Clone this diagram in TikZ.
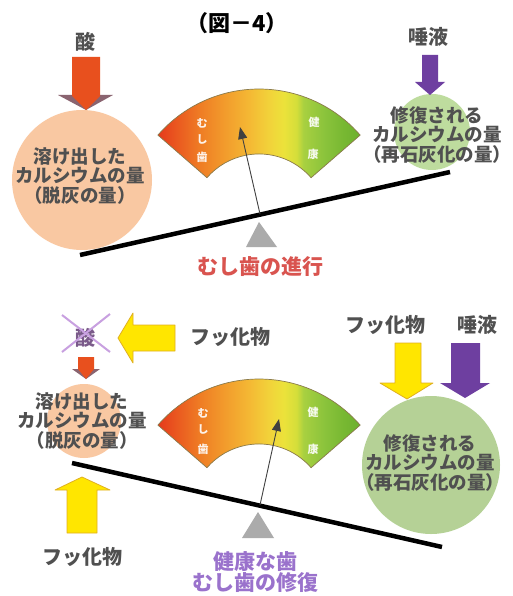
\documentclass[tikz,border=0pt]{standalone}
\usepackage{fontspec}
\newfontfamily\jp{Noto Sans CJK JP}
\usetikzlibrary{arrows.meta}
\definecolor{txtgray}{HTML}{505050}
\definecolor{peach}{HTML}{F9C8A2}
\definecolor{lgreen}{HTML}{BEDC9E}
\definecolor{acidred}{HTML}{E8501E}
\definecolor{redwing}{HTML}{8A6470}
\definecolor{salpurple}{HTML}{6E3FA0}
\definecolor{fyellow}{HTML}{FFE600}
\definecolor{fyedge}{HTML}{E0B020}
\definecolor{xpurple}{HTML}{C8A0E0}
\definecolor{acidgray}{HTML}{7A5A8A}
\definecolor{capred}{HTML}{D9544F}
\definecolor{cappurple}{HTML}{9A72CC}
\definecolor{gline}{HTML}{8A7A4A}
\definecolor{g1}{HTML}{E53A1C}
\definecolor{g2}{HTML}{EA5A20}
\definecolor{g3}{HTML}{EF7C24}
\definecolor{g4}{HTML}{F29B2C}
\definecolor{g5}{HTML}{F4B834}
\definecolor{g6}{HTML}{F2D23A}
\definecolor{g7}{HTML}{ECE23A}
\definecolor{g8}{HTML}{D4DE3A}
\definecolor{g9}{HTML}{A8D040}
\definecolor{g10}{HTML}{8CC43C}
\definecolor{g11}{HTML}{78B832}
\definecolor{g12}{HTML}{6CB02E}
\pgfdeclarehorizontalshading{gaugeshade}{100bp}{color(0bp)=(g1); color(25bp)=(g1); color(29.9bp)=(g2); color(35.3bp)=(g3); color(41.4bp)=(g4); color(47.5bp)=(g5); color(52.4bp)=(g6); color(56.1bp)=(g7); color(59.3bp)=(g8); color(61bp)=(g9); color(65.9bp)=(g10); color(70.8bp)=(g11); color(75bp)=(g12); color(100bp)=(g12)}
\tikzset{
  lbl/.style={font=\jp\bfseries\fontsize{20}{22}\selectfont, text=txtgray, inner sep=0pt},
  ctext/.style={font=\jp\bfseries\fontsize{18.5}{19.5}\selectfont, text=txtgray, align=center, inner sep=0pt},
  gtext/.style={font=\jp\bfseries\fontsize{11}{12}\selectfont, text=white, inner sep=0pt, opacity=0.9},
  captext/.style={font=\jp\bfseries\fontsize{21}{21}\selectfont, inner sep=0pt, align=center},
  beamline/.style={line width=4.5pt, black},
  needle/.style={draw=black!75, line width=0.9pt, -{Triangle[length=12pt,width=9pt]}},
  fulcrum/.style={fill=black!33, draw=none},
  gaugeoutline/.style={draw=gline, line width=0.7pt},
  yarrow/.style={fill=fyellow, draw=fyedge, line width=0.8pt, line join=round},
}
\begin{document}
\begin{tikzpicture}[x=1pt,y=-1pt]
\useasboundingbox (0,0) rectangle (512,596);
\fill[white] (0,0) rectangle (512,596);

% ---------- title
\node[font=\jp\bfseries\fontsize{22}{24}\selectfont, inner sep=0pt] (title) at (237,23) {（図－4）};

% ================= TOP PANEL =================
\fill[peach] (82,180) circle[radius=70];
\fill[lgreen] (432,132) circle[radius=38];
\node[ctext] (tpeachtxt) at (80,176) {溶け出した\\カルシウムの量\\（脱灰の量）};
\node[ctext] (tgreentxt) at (437,135) {修復される\\カルシウムの量\\（再石灰化の量）};

% acid arrow
\node[lbl] (tacid) at (85,42) {酸};
\fill[redwing] (58,95) -- (113,95) -- (86,110) -- cycle;
\fill[acidred] (72,57) -- (100,57) -- (100,96) -- (86,110) -- (72,96) -- cycle;
% saliva arrow
\node[lbl] (tsaliva) at (428,37) {唾液};
\fill[salpurple] (422,55) -- (438,55) -- (438,82) -- (445,82) -- (430,95) -- (415,82) -- (422,82) -- cycle;

% gauge
\begin{scope}
\shade[shading=gaugeshade] (157.9,135.1) arc[start angle=-139, end angle=-41, radius=134] -- (311.1,177.7) arc[start angle=-41, end angle=-139, radius=69] -- cycle;
\draw[gaugeoutline] (157.9,135.1) arc[start angle=-139, end angle=-41, radius=134] -- (311.1,177.7) arc[start angle=-41, end angle=-139, radius=69] -- cycle;
\node[gtext] (tm1) at (202,123) {む};
\node[gtext] (tm2) at (202,139) {し};
\node[gtext] (tm3) at (202,157) {歯};
\node[gtext] (tk1) at (314,122) {健};
\node[gtext] (tk2) at (313,154) {康};
\end{scope}

% beam, fulcrum, needle
\coordinate (tbeamL) at (80,255);
\coordinate (tbeamR) at (450,172);
\draw[beamline] (tbeamL) -- (tbeamR);
\fill[fulcrum] (259,222) -- (277,247) -- (246,247) -- cycle;
\coordinate (tneedleB) at (260,214);
\coordinate (tneedleT) at (240,127);
\draw[needle] (tneedleB) -- (tneedleT);
\node[captext, text=capred] (tcap) at (260,267) {むし歯の進行};

% ================= BOTTOM PANEL =================
\fill[peach] (84,421) circle[radius=37];
\fill[lgreen!95!black] (431,465) circle[radius=69];
\node[ctext] (bpeachtxt) at (82,421) {溶け出した\\カルシウムの量\\（脱灰の量）};
\node[ctext] (bgreentxt) at (430,463) {修復される\\カルシウムの量\\（再石灰化の量）};

% crossed acid
\node[lbl, text=acidgray] (bacid) at (85,338) {酸};
\draw[xpurple, line width=2pt] (62,315) -- (110,352);
\draw[xpurple, line width=2pt] (110,314) -- (62,352);
% fluoride pointing left
\draw[yarrow] (175,325) -- (175,351) -- (133,351) -- (133,363) -- (118,338) -- (133,313) -- (133,325) -- cycle;
\node[lbl] (bfluo1) at (230,337) {フッ化物};
% small red arrow
\fill[redwing] (72,369) -- (100,369) -- (86,379) -- cycle;
\fill[acidred] (78,357) -- (94,357) -- (94,369) -- (86,379) -- (78,369) -- cycle;
% right labels and arrows
\node[lbl] (bfluo2) at (385,325) {フッ化物};
\node[lbl] (bsaliva) at (477,325) {唾液};
\draw[yarrow] (395,343) -- (421,343) -- (421,383) -- (433,383) -- (407,399) -- (380,383) -- (395,383) -- cycle;
\fill[salpurple] (451,343) -- (480,343) -- (480,383) -- (490,383) -- (465,398) -- (440,383) -- (451,383) -- cycle;
% up fluoride arrow
\draw[yarrow] (67,533) -- (97,533) -- (97,490) -- (110,490) -- (82,477) -- (55,490) -- (67,490) -- cycle;
\node[lbl] (bfluo3) at (82,557) {フッ化物};

% gauge
\begin{scope}[shift={(0,290)}]
\shade[shading=gaugeshade] (157.9,135.1) arc[start angle=-139, end angle=-41, radius=134] -- (311.1,177.7) arc[start angle=-41, end angle=-139, radius=69] -- cycle;
\draw[gaugeoutline] (157.9,135.1) arc[start angle=-139, end angle=-41, radius=134] -- (311.1,177.7) arc[start angle=-41, end angle=-139, radius=69] -- cycle;
\node[gtext] (bm1) at (203,123) {む};
\node[gtext] (bm2) at (203,139) {し};
\node[gtext] (bm3) at (203,159) {歯};
\node[gtext] (bk1) at (313,122) {健};
\node[gtext] (bk2) at (313,159) {康};
\end{scope}

\coordinate (bbeamL) at (72,463);
\coordinate (bbeamR) at (442,547);
\draw[beamline] (bbeamL) -- (bbeamR);
\fill[fulcrum] (258,512) -- (274,538) -- (242,538) -- cycle;
\coordinate (bneedleB) at (260,505);
\coordinate (bneedleT) at (279,419);
\draw[needle] (bneedleB) -- (bneedleT);
\node[captext, text=cappurple] (bcap1) at (255,562) {健康な歯};
\node[captext, text=cappurple] (bcap2) at (255,583) {むし歯の修復};
\end{tikzpicture}
\end{document}
